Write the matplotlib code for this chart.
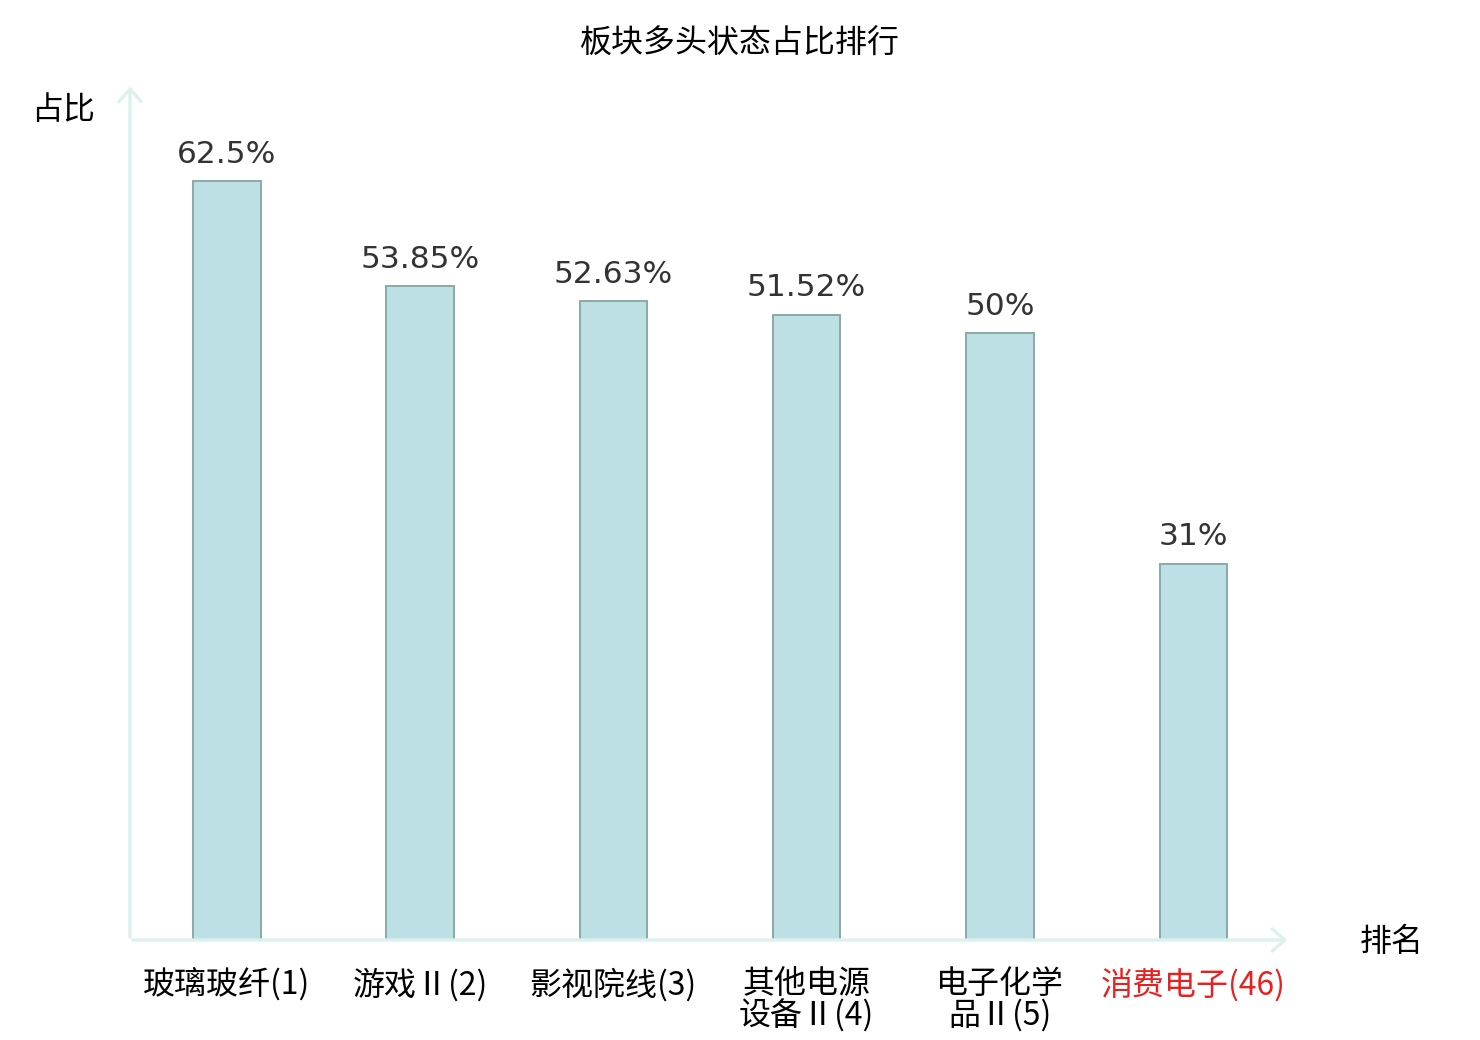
import matplotlib
matplotlib.use("Agg")
import matplotlib.pyplot as plt

plt.rcParams['font.family'] = ['Noto Sans CJK SC', 'DejaVu Sans']

categories = ["玻璃玻纤(1)", "游戏Ⅱ(2)", "影视院线(3)", "其他电源\n设备Ⅱ(4)", "电子化学\n品Ⅱ(5)", "消费电子(46)"]
values = [62.5, 53.85, 52.63, 51.52, 50, 31]
value_labels = ["62.5%", "53.85%", "52.63%", "51.52%", "50%", "31%"]
label_colors = ["black", "black", "black", "black", "black", "#e8201f"]

fig = plt.figure(figsize=(14.8, 10.4), dpi=100)
ax = fig.add_axes([130/1480, 100/1040, 1160/1480, 852/1040])
x = list(range(len(categories)))
ax.bar(x, values, width=0.35, color="#bce0e3", edgecolor="#8ba9aa", linewidth=1.4, zorder=2)
ax.set_xlim(-0.5, 5.5)
ax.set_ylim(0, 70.2)
for s in ax.spines.values():
    s.set_visible(False)
ax.set_yticks([])
ax.set_xticks(x)
ax.set_xticklabels(categories, fontsize=23, linespacing=0.97)
for t, c in zip(ax.get_xticklabels(), label_colors):
    t.set_color(c)
ax.tick_params(axis='x', length=0, pad=20)

for xi, v, lab in zip(x, values, value_labels):
    ax.annotate(lab, (xi, v), xytext=(0, 9), textcoords='offset points',
                ha='center', va='bottom', fontsize=22.5, color='#333333',
                family=['DejaVu Sans'])

axis_color = "#dcf1ee"
arrow = dict(arrowstyle='->,head_length=0.9,head_width=0.8', color=axis_color, lw=2.4)
ax.annotate("", xy=(0, 1.005), xytext=(0, 0), xycoords='axes fraction',
            arrowprops=arrow, annotation_clip=False)
ax.annotate("", xy=(1.0, 0), xytext=(0, 0), xycoords='axes fraction',
            arrowprops=arrow, annotation_clip=False)

fig.text(740/1480, 1 - 44/1040, "板块多头状态占比排行", ha='center', va='center', fontsize=23, color='black')
fig.text(63/1480, 1 - 110/1040, "占比", ha='center', va='center', fontsize=23, color='black')
fig.text(1392/1480, 1 - 942/1040, "排名", ha='center', va='center', fontsize=23, color='black')

fig.savefig("out.png", dpi=100)
